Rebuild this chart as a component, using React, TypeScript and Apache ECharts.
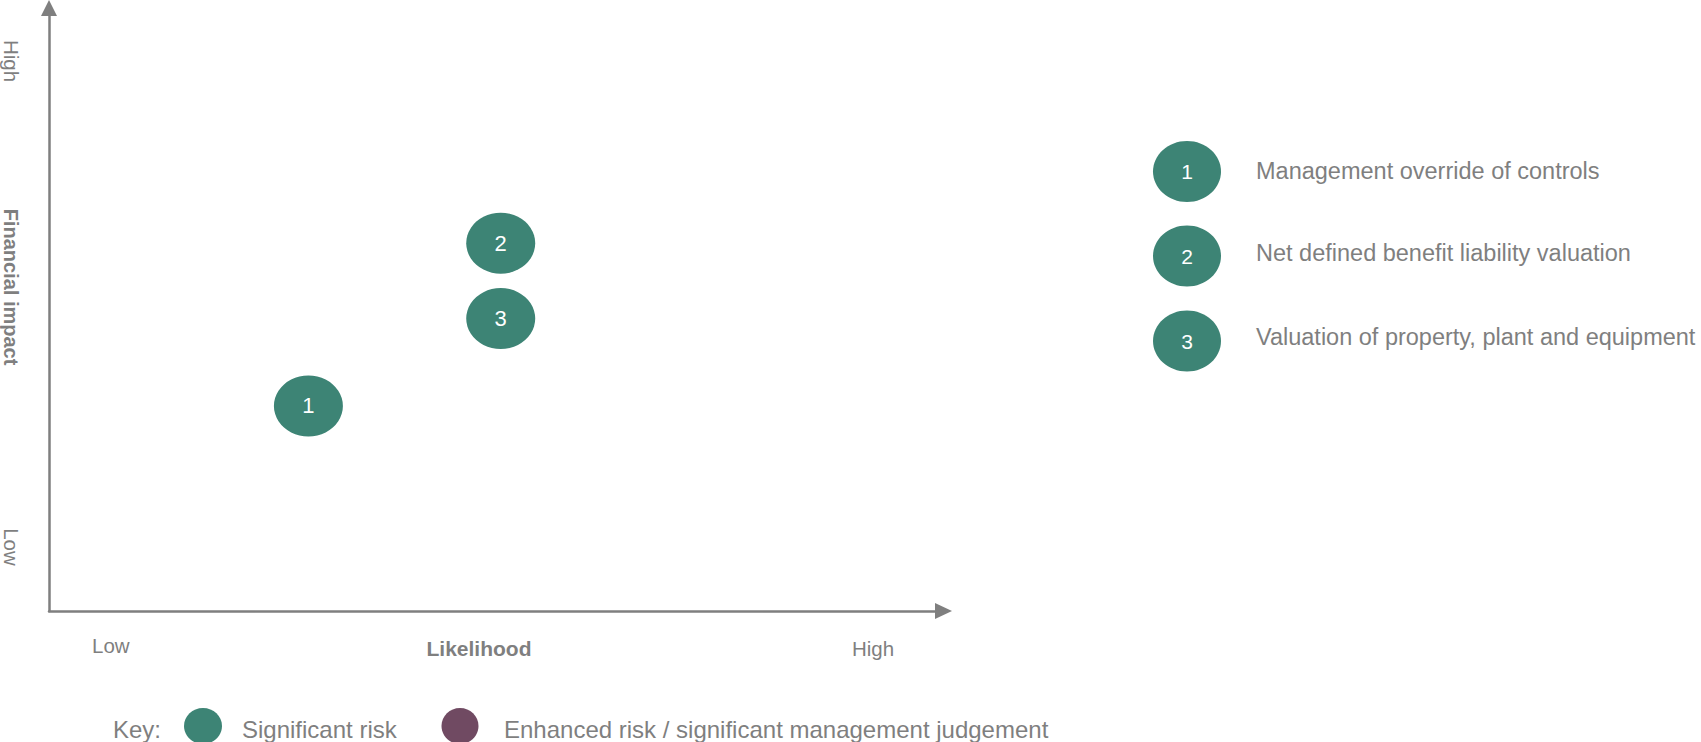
import React, { useEffect, useRef } from "react";
import * as echarts from "echarts";

// ---- data ----
const riskIds: string[] = ["1", "2", "3"];
const riskNames: string[] = [
  "Management override of controls",
  "Net defined benefit liability valuation",
  "Valuation of property, plant and equipment",
];
const likelihood: number[] = [2.9, 5.05, 5.05];
const financialImpact: number[] = [3.4, 6.1, 4.85];
const xTickLabels: string[] = ["Low", "High"];
const yTickLabels: string[] = ["Low", "High"];
const xAxisName = "Likelihood";
const yAxisName = "Financial impact";
const keyTitle = "Key:";
const keyItems: string[] = ["Significant risk", "Enhanced risk / significant management judgement"];

const GREEN = "#3d8475";
const PURPLE = "#704a62";
const GRAY = "#7f7f7f";
const FONT = "'Liberation Sans', Arial, sans-serif";

export default function App() {
  const ref = useRef<HTMLDivElement>(null);

  useEffect(() => {
    if (!ref.current) return;
    const chart = echarts.init(ref.current, undefined, { renderer: "svg" });

    const legendY = [171.5, 256, 341];
    const legendTextY = [171, 253, 337];

    const graphics: any[] = [];

    // Left rotated labels
    graphics.push({
      type: "text", x: 11, y: 61, rotation: -Math.PI / 2,
      style: { text: yTickLabels[1], fontSize: 20.5, fontFamily: FONT, fill: GRAY, align: "center", verticalAlign: "middle" },
    });
    graphics.push({
      type: "text", x: 11, y: 287, rotation: -Math.PI / 2,
      style: { text: yAxisName, fontSize: 20, fontWeight: "bold", fontFamily: FONT, fill: GRAY, align: "center", verticalAlign: "middle" },
    });
    graphics.push({
      type: "text", x: 11, y: 547, rotation: -Math.PI / 2,
      style: { text: yTickLabels[0], fontSize: 20.5, fontFamily: FONT, fill: GRAY, align: "center", verticalAlign: "middle" },
    });

    // Bottom labels
    graphics.push({
      type: "text", x: 92, y: 645,
      style: { text: xTickLabels[0], fontSize: 20.5, fontFamily: FONT, fill: GRAY, align: "left", verticalAlign: "middle" },
    });
    graphics.push({
      type: "text", x: 479, y: 648,
      style: { text: xAxisName, fontSize: 21, fontWeight: "bold", fontFamily: FONT, fill: GRAY, align: "center", verticalAlign: "middle" },
    });
    graphics.push({
      type: "text", x: 852, y: 648,
      style: { text: xTickLabels[1], fontSize: 20.5, fontFamily: FONT, fill: GRAY, align: "left", verticalAlign: "middle" },
    });

    // Right legend
    riskIds.forEach((id, i) => {
      graphics.push({
        type: "ellipse",
        shape: { cx: 1187, cy: legendY[i], rx: 34, ry: 30.5 },
        style: { fill: GREEN },
      });
      graphics.push({
        type: "text", x: 1187, y: legendY[i],
        style: { text: id, fontSize: 21, fontFamily: FONT, fill: "#ffffff", align: "center", verticalAlign: "middle" },
      });
      graphics.push({
        type: "text", x: 1256, y: legendTextY[i],
        style: { text: riskNames[i], fontSize: 23.5, fontFamily: FONT, fill: GRAY, align: "left", verticalAlign: "middle" },
      });
    });

    // Bottom key
    graphics.push({
      type: "text", x: 113, y: 729,
      style: { text: keyTitle, fontSize: 24, fontFamily: FONT, fill: GRAY, align: "left", verticalAlign: "middle" },
    });
    graphics.push({
      type: "ellipse", shape: { cx: 203, cy: 726, rx: 19, ry: 18 }, style: { fill: GREEN },
    });
    graphics.push({
      type: "text", x: 242, y: 729,
      style: { text: keyItems[0], fontSize: 24, fontFamily: FONT, fill: GRAY, align: "left", verticalAlign: "middle" },
    });
    graphics.push({
      type: "ellipse", shape: { cx: 460, cy: 726, rx: 18.5, ry: 18 }, style: { fill: PURPLE },
    });
    graphics.push({
      type: "text", x: 504, y: 729,
      style: { text: keyItems[1], fontSize: 24, fontFamily: FONT, fill: GRAY, align: "left", verticalAlign: "middle" },
    });

    const axisCommon = {
      type: "value",
      min: 0,
      max: 10,
      splitLine: { show: false },
      axisTick: { show: false },
      axisLabel: { show: false },
    };

    chart.setOption({
      animation: false,
      backgroundColor: "#ffffff",
      grid: { left: 49, right: 757.5, top: 8, bottom: 131, containLabel: false },
      xAxis: {
        ...axisCommon,
        axisLine: {
          show: true,
          onZero: false,
          symbol: ["none", "triangle"],
          symbolSize: [16, 17],
          lineStyle: { color: GRAY, width: 2.5 },
        },
      },
      yAxis: {
        ...axisCommon,
        axisLine: {
          show: true,
          onZero: false,
          symbol: ["none", "triangle"],
          symbolSize: [16, 16],
          lineStyle: { color: GRAY, width: 2.5 },
        },
      },
      series: [
        {
          type: "scatter",
          symbol: "circle",
          symbolSize: [69, 61],
          itemStyle: { color: GREEN, opacity: 1 },
          label: {
            show: true,
            position: "inside",
            formatter: (p: any) => p.data[2],
            color: "#ffffff",
            fontSize: 22,
            fontFamily: FONT,
          },
          data: riskIds.map((id, i) => [likelihood[i], financialImpact[i], id]),
        },
      ],
      graphic: graphics,
    });

    return () => chart.dispose();
  }, []);

  return (
    <div
      ref={ref}
      style={{ position: "fixed", left: 0, top: 0, width: 1701, height: 742, background: "#fff" }}
    />
  );
}
